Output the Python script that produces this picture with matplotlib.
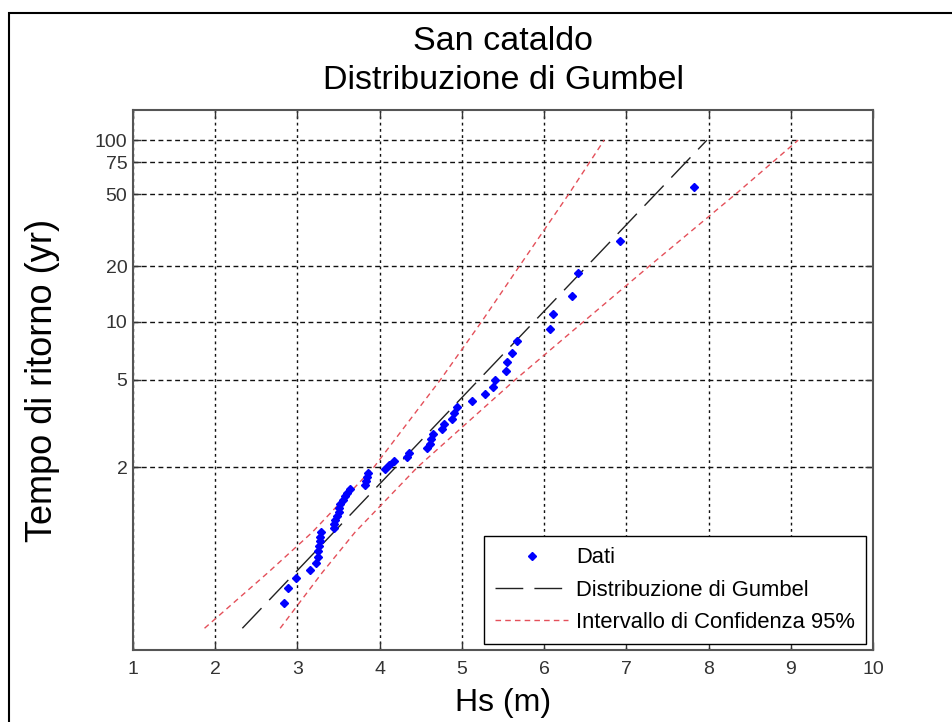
import numpy as np
import matplotlib
matplotlib.use('Agg')
import matplotlib.pyplot as plt
from matplotlib.patches import Rectangle

plt.rcParams['font.family'] = ['Liberation Sans', 'DejaVu Sans']

# --- data (Hs in m, return period T in years) ---
hs_data = [2.84, 2.89, 2.98, 3.15, 3.23, 3.25, 3.25, 3.26, 3.27, 3.28, 3.29,
           3.44, 3.45, 3.46, 3.48, 3.50, 3.51, 3.52, 3.55, 3.58, 3.60, 3.64,
           3.82, 3.83, 3.84, 3.86, 4.07, 4.11, 4.18, 4.33, 4.36, 4.57, 4.61,
           4.63, 4.65, 4.76, 4.78, 4.88, 4.91, 4.94, 5.12, 5.28, 5.38, 5.40,
           5.54, 5.55, 5.61, 5.67, 6.07, 6.11, 6.34, 6.41, 6.92, 7.82]
t_data = [1.0185, 1.0377, 1.0577, 1.0784, 1.1, 1.1224, 1.1458, 1.1702, 1.1957,
          1.2222, 1.25, 1.2791, 1.3095, 1.3415, 1.375, 1.4103, 1.4474, 1.4865,
          1.5278, 1.5714, 1.6176, 1.6667, 1.7188, 1.7742, 1.8333, 1.8966,
          1.9643, 2.0370, 2.1154, 2.2, 2.2917, 2.3913, 2.5, 2.6190, 2.75,
          2.8947, 3.0556, 3.2353, 3.4375, 3.6667, 3.9286, 4.2308, 4.5833, 5.0,
          5.5, 6.1111, 6.875, 7.8571, 9.1667, 11.0, 13.75, 18.3333, 27.5, 55.0]

hs_gumbel = [2.33, 7.98]
t_gumbel = [1.0038, 100]

t_band = [1.0038, 1.0707, 1.25, 2, 5, 10, 20, 50, 100]
hs_band_upper = [1.87, 2.64, 3.18, 3.93, 4.74, 5.24, 5.70, 6.30, 6.73]
hs_band_lower = [2.79, 3.30, 3.70, 4.46, 5.65, 6.48, 7.28, 8.33, 9.09]

x_ticks = [1, 2, 3, 4, 5, 6, 7, 8, 9, 10]
y_ticks = [2, 5, 10, 20, 50, 75, 100]


def fwd(t):
    t = np.asarray(t, dtype=float)
    with np.errstate(all='ignore'):
        return -np.log(-np.log(1.0 - 1.0 / t))


def inv(y):
    y = np.asarray(y, dtype=float)
    with np.errstate(all='ignore'):
        return 1.0 / (1.0 - np.exp(-np.exp(-y)))


fig = plt.figure(figsize=(9.52, 7.22), dpi=100)
fig.patch.set_facecolor('white')
ax = fig.add_axes([133 / 952, 1 - 650 / 722, 740 / 952, 540 / 722])
ax.set_yscale('function', functions=(fwd, inv))

ax.plot(hs_data, t_data, linestyle='none', marker='D', color='#0000ff',
        markersize=4.4, label='Dati', zorder=4)
ax.plot(hs_gumbel, t_gumbel, color='#222222', linewidth=1.0,
        dashes=(20, 8), label='Distribuzione di Gumbel', zorder=3)
ax.plot(hs_band_upper, t_band, color='#e4505a', linewidth=1.0,
        dashes=(4, 3), label='Intervallo di Confidenza 95%', zorder=3)
ax.plot(hs_band_lower, t_band, color='#e4505a', linewidth=1.0,
        dashes=(4, 3), zorder=3)

ax.set_xlim(1, 10)
ax.set_ylim(float(inv(-2.0)), float(inv(4.99)))
ax.set_xticks(x_ticks)
ax.set_xticklabels([str(v) for v in x_ticks])
ax.set_yticks(y_ticks)
ax.set_yticklabels([str(v) for v in y_ticks])
ax.yaxis.set_minor_locator(matplotlib.ticker.NullLocator())

ax.xaxis.grid(True, color='#111111', linestyle=(0, (2, 2.5)), linewidth=1.0)
ax.yaxis.grid(True, color='#111111', linestyle=(0, (3.5, 2.5)), linewidth=1.0)
ax.set_axisbelow(True)

ax.tick_params(direction='in', length=6, width=1, top=True, right=True,
               labelsize=14, colors='#333333')
ax.tick_params(axis='x', pad=8)
ax.tick_params(axis='y', pad=4)
for s in ax.spines.values():
    s.set_color('#555555')
    s.set_linewidth(1.5)

ax.set_xlabel('Hs (m)', fontsize=23, labelpad=7)
ax.set_ylabel('Tempo di ritorno (yr)', fontsize=26)
ax.yaxis.set_label_coords(-0.098, 0.5)
ax.set_title('San cataldo\nDistribuzione di Gumbel', fontsize=24.5,
             linespacing=1.36, pad=15)

leg = ax.legend(loc='lower right', bbox_to_anchor=(0.9905, 0.011),
                borderaxespad=0, fontsize=15.8, handlelength=3.35,
                handletextpad=0.35, labelspacing=0.52, borderpad=0.5,
                fancybox=False, edgecolor='black', framealpha=1)
leg.get_frame().set_linewidth(1.0)

fig.patches.append(Rectangle((8.5 / 952, -0.02), 1.2, 1.02 - 12.5 / 722,
                             transform=fig.transFigure, fill=False,
                             edgecolor='black', linewidth=1.5))

fig.savefig('out.png', dpi=100)
